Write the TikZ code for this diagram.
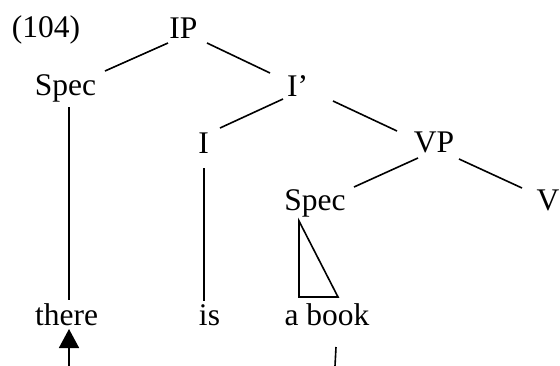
\documentclass[tikz,border=0pt]{standalone}
\usepackage{fontspec}
\setmainfont{Liberation Serif}
\usetikzlibrary{arrows.meta}
\tikzset{
  lbl/.style={inner sep=0pt, anchor=base, font=\fontsize{31.5}{36}\selectfont},
  edge/.style={line width=1.6pt},
}
\begin{document}
\begin{tikzpicture}[x=1pt,y=-1pt]
\useasboundingbox (0,0) rectangle (560,365);
\node[lbl] (ex) at (46,37) {(104)};
\node[lbl] (IP) at (183.5,38) {IP};
\node[lbl] (SpecA) at (65.5,95) {Spec};
\node[lbl] (Ibar) at (297.5,96) {I’};
\node[lbl] (I) at (203.5,153) {I};
\node[lbl] (VP) at (434,152) {VP};
\node[lbl] (SpecB) at (315,210) {Spec};
\node[lbl] (V) at (548,210) {V};
\node[lbl] (there) at (66.5,325) {there};
\node[lbl] (is) at (209.5,325) {is};
\node[lbl] (abook) at (327,325) {a book};
\coordinate (foot) at (69,366);
\coordinate (tail) at (335,366);

\draw[edge] ([shift={(-15.5,5)}]IP.base) -- ([shift={(39.5,-24)}]SpecA.base);
\draw[edge] ([shift={(23.5,5)}]IP.base) -- ([shift={(-27.5,-23)}]Ibar.base);
\draw[edge] ([shift={(-14.5,3)}]Ibar.base) -- ([shift={(16.5,-25)}]I.base);
\draw[edge] ([shift={(35.5,5)}]Ibar.base) -- ([shift={(-37,-21)}]VP.base);
\draw[edge] ([shift={(-16,6)}]VP.base) -- ([shift={(39,-23)}]SpecB.base);
\draw[edge] ([shift={(25,7)}]VP.base) -- ([shift={(-26,-22)}]V.base);
\draw[edge] ([shift={(3.5,12)}]SpecA.base) -- ([shift={(2.5,-25)}]there.base);
\draw[edge] ([shift={(0.5,15)}]I.base) -- ([shift={(-5.5,-24)}]is.base);
\draw[edge, line join=miter] ([shift={(-16,11)}]SpecB.base) -- ([shift={(-28,-28)}]abook.base) -- ([shift={(11,-28)}]abook.base) -- cycle;
\draw[edge, -{Triangle[width=20pt,length=19pt]}] (foot) -- ([shift={(2.5,4)}]there.base);
\draw[edge] ([shift={(9,22)}]abook.base) -- (tail);
\end{tikzpicture}
\end{document}
